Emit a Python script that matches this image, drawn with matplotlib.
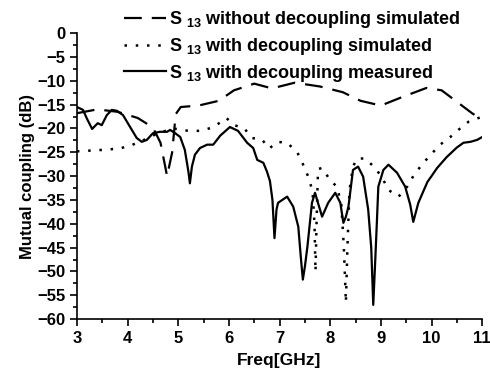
import numpy as np
import matplotlib
matplotlib.use("Agg")
import matplotlib.pyplot as plt
from matplotlib.ticker import MultipleLocator

# S13 without decoupling, simulated (dashed)
f_wo = [3.0, 3.4, 3.8, 4.2, 4.5, 4.65, 4.78, 4.88, 4.95, 5.05, 5.4, 5.8, 6.1, 6.5,
        6.85, 7.3, 7.8, 8.25, 8.6, 9.0, 9.4, 9.9, 10.2, 10.55, 10.8, 11.0]
s_wo = [-16.8, -16.0, -16.5, -17.8, -19.8, -23.0, -30.0, -25.0, -17.0, -15.5, -15.2, -14.2,
        -12.0, -10.6, -11.6, -10.4, -11.2, -12.4, -14.2, -15.2, -13.5, -11.5, -12.0, -14.8,
        -16.8, -18.2]

# S13 with decoupling, simulated (dotted)
f_sim = [3.0, 3.5, 3.85, 4.1, 4.3, 4.6, 4.9, 5.2, 5.45, 5.7, 5.95, 6.1, 6.3, 6.45, 6.65,
         6.8, 6.95, 7.15, 7.35, 7.45, 7.55, 7.65, 7.69, 7.71, 7.73, 7.76, 7.84, 7.96,
         8.14, 8.22, 8.27, 8.31, 8.34, 8.38, 8.45, 8.53, 8.69, 8.89, 9.03, 9.15, 9.35,
         9.52, 9.64, 9.78, 9.94, 10.17, 10.37, 10.53, 10.73, 10.93, 11.0]
s_sim = [-24.8, -24.5, -24.2, -23.4, -22.5, -21.0, -20.0, -20.5, -20.5, -19.7, -17.8,
         -19.3, -19.9, -22.0, -22.3, -24.2, -22.8, -23.0, -25.0, -27.2, -29.7, -33.0,
         -40.0, -50.0, -40.0, -28.5, -28.3, -30.2, -32.4, -36.0, -45.0, -56.5, -45.0,
         -33.0, -28.0, -26.3, -26.3, -28.3, -30.4, -32.9, -34.3, -32.2, -30.0, -28.0,
         -26.0, -23.4, -21.8, -20.3, -18.6, -17.8, -17.6]

# S13 with decoupling, measured (solid)
f_meas = [3.0, 3.12, 3.2, 3.3, 3.41, 3.49, 3.59, 3.69, 3.79, 3.91, 4.05, 4.18, 4.28,
          4.38, 4.5, 4.64, 4.78, 4.84, 4.94, 5.04, 5.13, 5.2, 5.23, 5.27, 5.33, 5.43,
          5.57, 5.69, 5.83, 6.02, 6.18, 6.36, 6.48, 6.56, 6.68, 6.75, 6.81, 6.86, 6.9,
          6.94, 6.97, 7.15, 7.27, 7.37, 7.42, 7.46, 7.5, 7.55, 7.64, 7.7, 7.84, 7.96,
          8.1, 8.2, 8.26, 8.31, 8.36, 8.45, 8.55, 8.65, 8.75, 8.81, 8.85, 8.89, 8.92,
          8.95, 9.05, 9.15, 9.32, 9.48, 9.58, 9.64, 9.74, 9.92, 10.0, 10.11, 10.3, 10.5,
          10.63, 10.77, 10.9, 11.0]
s_meas = [-15.5, -16.1, -18.0, -20.1, -18.9, -19.3, -17.2, -16.1, -16.3, -17.2, -19.7,
          -22.0, -22.8, -22.4, -21.0, -20.7, -20.7, -20.3, -21.0, -21.8, -24.5, -29.0,
          -31.5, -28.0, -25.5, -24.1, -23.4, -23.4, -21.5, -19.7, -20.5, -23.0, -24.1,
          -26.6, -27.2, -29.0, -31.0, -35.0, -43.0, -37.0, -35.6, -34.3, -36.4, -40.6,
          -47.0, -51.7, -49.0, -44.8, -35.6, -33.5, -38.5, -35.6, -33.5, -35.6, -39.8,
          -38.5, -36.4, -28.7, -28.0, -30.1, -37.0, -45.0, -57.0, -47.5, -40.0, -32.2,
          -28.7, -27.6, -29.3, -32.2, -36.0, -39.6, -35.6, -31.2, -30.0, -28.3, -26.0,
          -24.0, -23.0, -22.8, -22.4, -21.8]

labels = ["S $_{13}$ without decoupling simulated",
          "S $_{13}$ with decoupling simulated",
          "S $_{13}$ with decoupling measured"]

plt.rcParams.update({
    'font.family': 'Liberation Sans',
    'font.weight': 'bold',
    'mathtext.fontset': 'custom',
    'mathtext.rm': 'Liberation Sans:bold',
    'mathtext.bf': 'Liberation Sans:bold',
    'mathtext.default': 'bf',
})

fig = plt.figure(figsize=(4.9, 3.72), dpi=100)
ax = fig.add_axes([0.157, 0.142, 0.827, 0.769])

ax.plot(f_wo, s_wo, color='black', lw=1.6, linestyle=(0, (8, 4.5)), label=labels[0])
ax.plot(f_sim, s_sim, color='black', lw=1.8, linestyle=(0, (1, 3.5)), label=labels[1])
ax.plot(f_meas, s_meas, color='black', lw=1.6, linestyle='-', label=labels[2])

ax.set_xlim(3, 11)
ax.set_ylim(-60, 0)
ax.xaxis.set_major_locator(MultipleLocator(1))
ax.xaxis.set_minor_locator(MultipleLocator(0.5))
ax.yaxis.set_major_locator(MultipleLocator(5))
ax.yaxis.set_minor_locator(MultipleLocator(2.5))
ax.tick_params(which='major', direction='out', length=5, width=1.2, labelsize=12)
ax.tick_params(which='minor', direction='out', length=3, width=1.2)
for s in ['top', 'right']:
    ax.spines[s].set_visible(False)
for s in ['left', 'bottom']:
    ax.spines[s].set_linewidth(1.2)
for lab in ax.get_xticklabels() + ax.get_yticklabels():
    lab.set_fontweight('bold')

ax.set_xlabel("Freq[GHz]", fontsize=12.5, fontweight='bold', labelpad=5)
ax.set_ylabel("Mutual coupling (dB)", fontsize=12, fontweight='bold', labelpad=1)

ax.legend(loc='upper left', bbox_to_anchor=(0.238, 0.995), bbox_transform=fig.transFigure,
          frameon=False, fontsize=13, handlelength=2.35, handletextpad=0.15,
          labelspacing=0.32, borderaxespad=0)

fig.savefig("out.png", dpi=100)
